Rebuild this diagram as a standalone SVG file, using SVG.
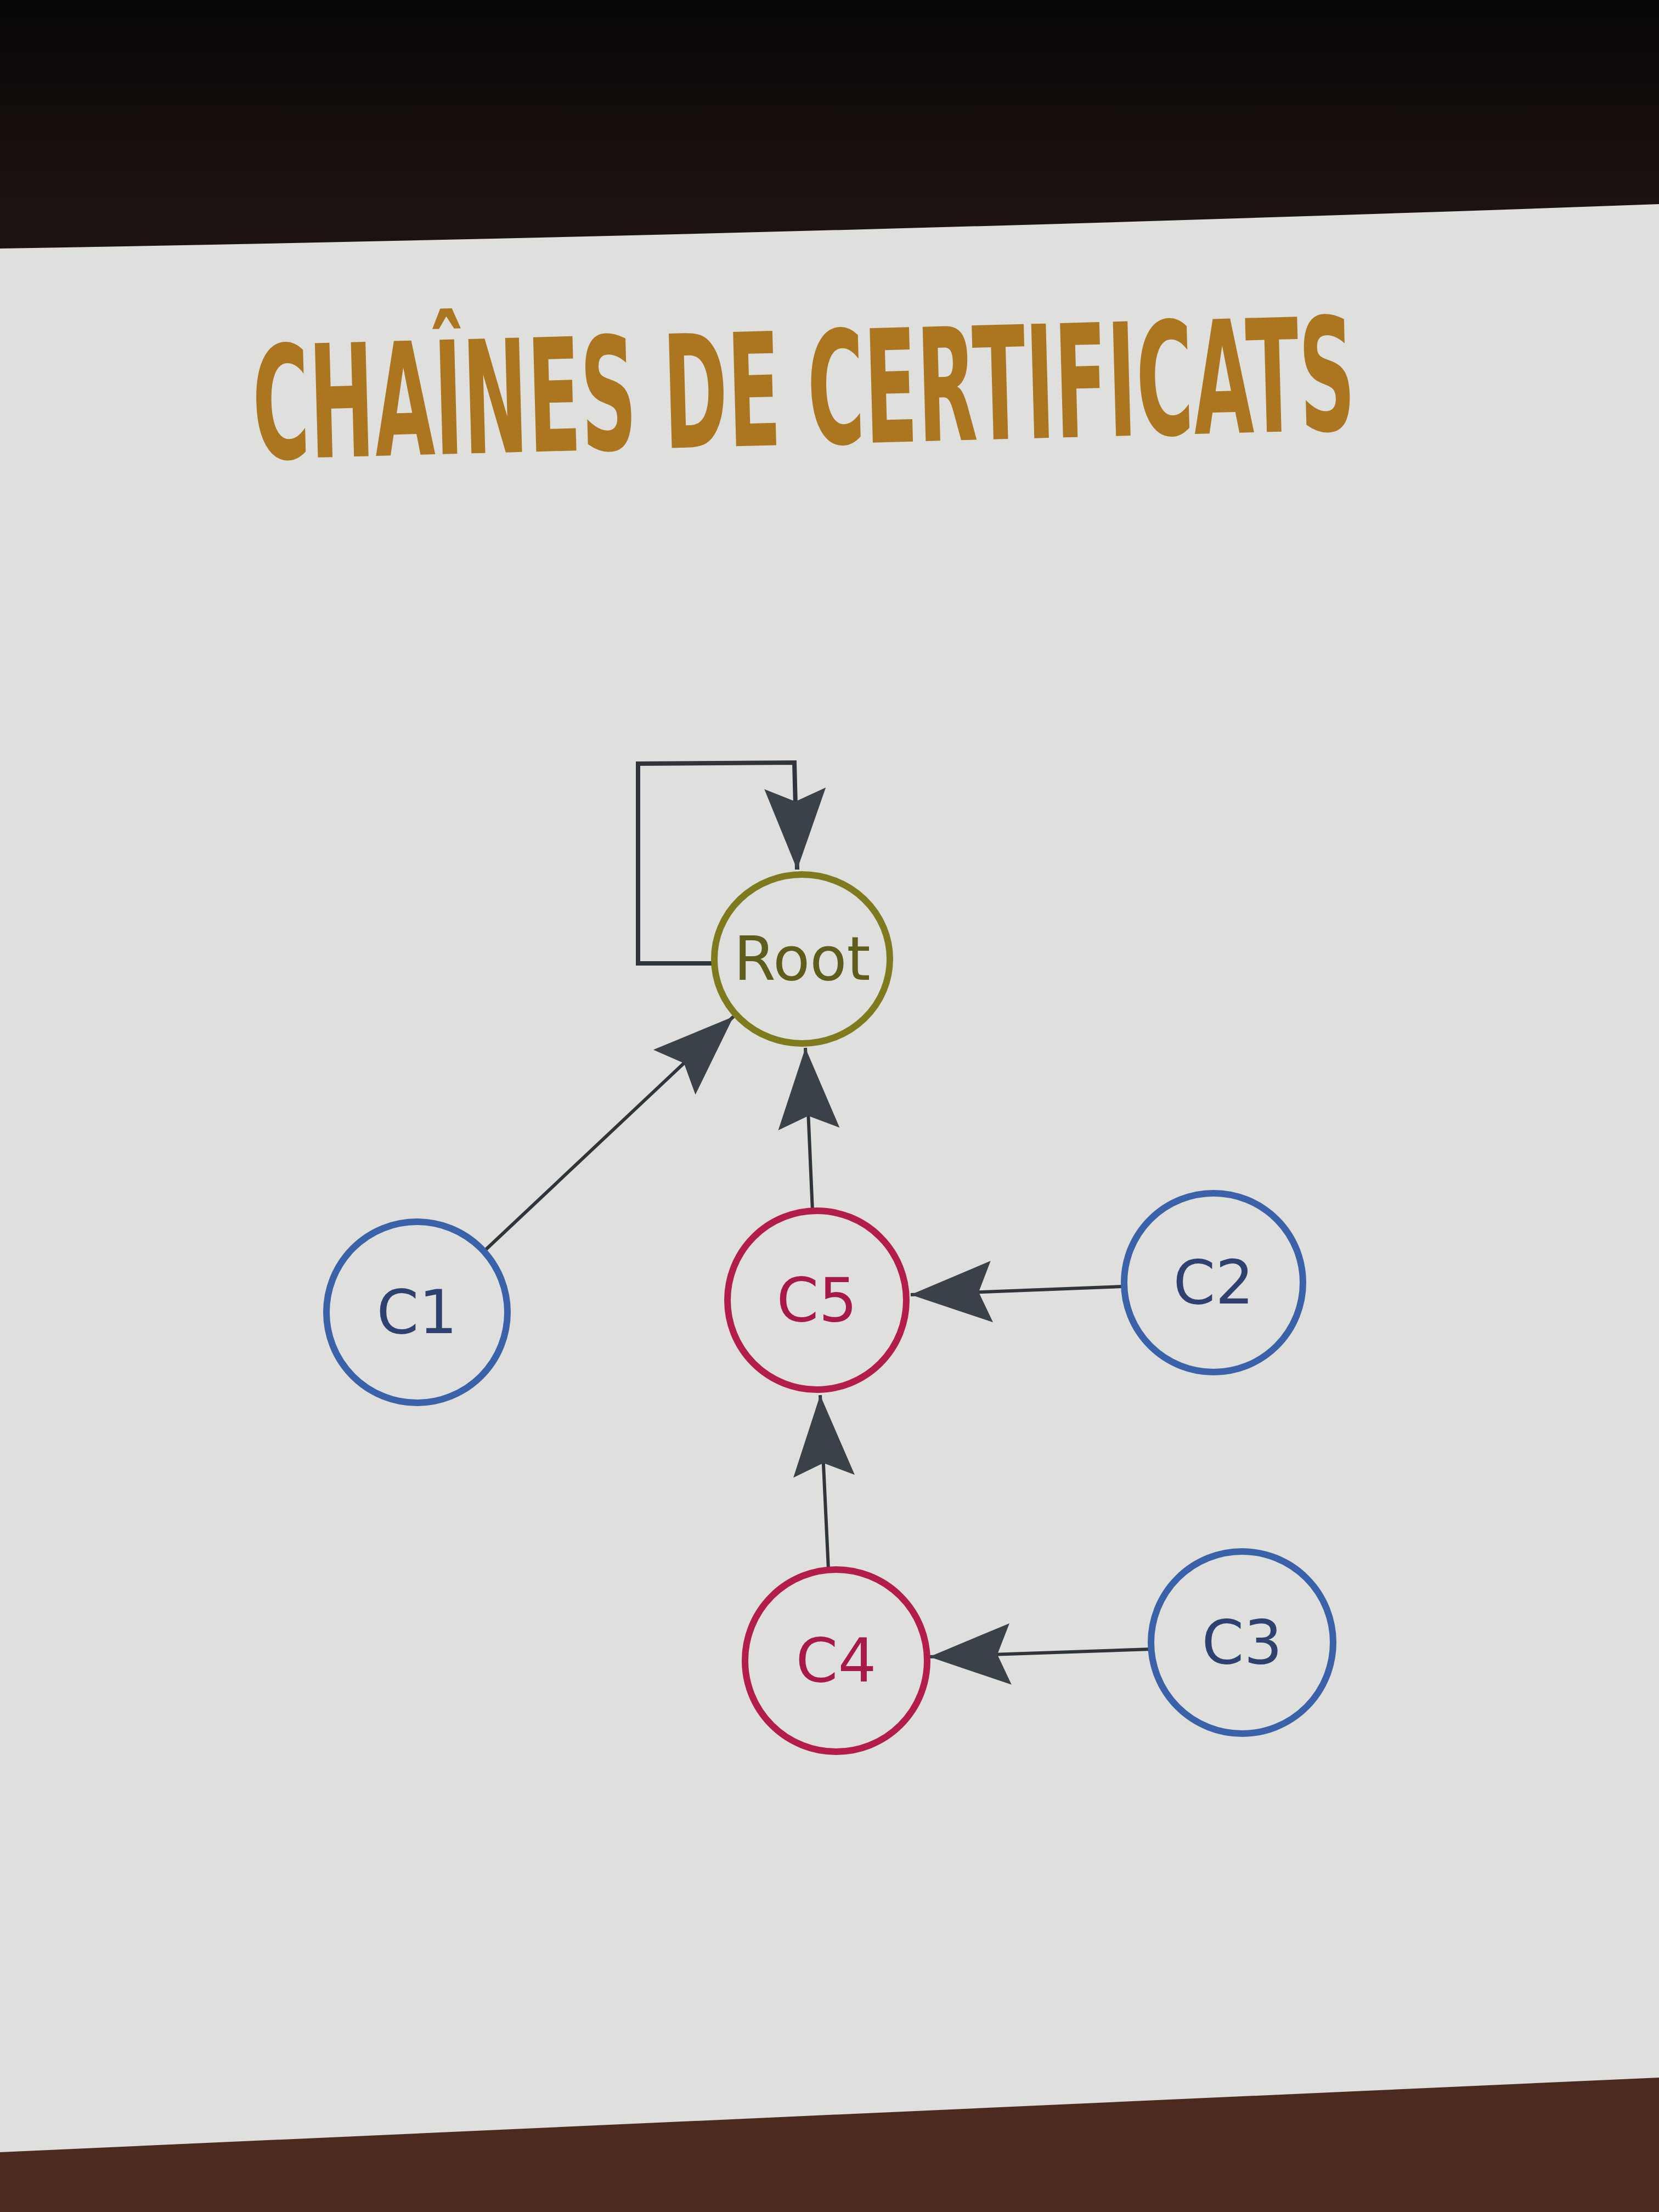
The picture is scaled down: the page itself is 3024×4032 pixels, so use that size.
<svg xmlns="http://www.w3.org/2000/svg" width="3024" height="4032" viewBox="0 0 3024 4032">
  <defs>
    <linearGradient id="bg" x1="0" y1="0" x2="0" y2="1">
      <stop offset="0" stop-color="#080606"/>
      <stop offset="0.09" stop-color="#1c1210"/>
      <stop offset="0.5" stop-color="#36201a"/>
      <stop offset="1" stop-color="#4e2b21"/>
    </linearGradient>
    <marker id="arr" markerUnits="userSpaceOnUse" markerWidth="160" markerHeight="130" viewBox="-155 -65 160 130" refX="0" refY="0" orient="auto">
      <path d="M0,0 L-148,-56 L-124,0 L-148,56 Z" fill="#3b4149"/>
    </marker>
    <style>
      .title { font-family: "Liberation Sans Narrow", "DejaVu Sans Condensed", "Liberation Sans", sans-serif; font-weight: bold; fill: #ab761f; }
      .node { fill: none; stroke-width: 12; }
      .blue { stroke: #3b62a9; }
      .red { stroke: #b21d4c; }
      .olive { stroke: #7e7a1d; }
      .lbl { font-family: "DejaVu Sans", sans-serif; font-size: 110px; text-anchor: middle; }
      .tblue { fill: #2e4170; }
      .tred { fill: #a6194a; }
      .tolive { fill: #5f5c1c; }
      .edge { fill: none; stroke: #30353c; stroke-width: 6; marker-end: url(#arr); }
      .loop { stroke-width: 8; }
    </style>
  </defs>
  <rect x="0" y="0" width="3024" height="4032" fill="url(#bg)"/>
  <path d="M0,453 Q1512,427 3024,372 L3024,3787 L0,3923 Z" fill="#dfdfdd"/>
  <text class="title" x="463" y="837" font-size="286" textLength="2010" lengthAdjust="spacingAndGlyphs" transform="rotate(-1.54 463 837)">CHAÎNES DE CERTIFICATS</text>
  <g id="connectors">
    <path class="edge loop" d="M1299,1756 L1163,1756 L1163,1392 L1448,1390 L1453,1585"/>
    <path class="edge" d="M882,2281 L1337,1853"/>
    <path class="edge" d="M1481,2207 L1468,1910"/>
    <path class="edge" d="M2046,2345 L1660,2360"/>
    <path class="edge" d="M1510,2860 L1495,2543"/>
    <path class="edge" d="M2098,3006 L1694,3020"/>
  </g>
  <g id="root">
    <ellipse class="node olive" cx="1462" cy="1748" rx="160" ry="154"/>
    <text class="lbl tolive" x="1462" y="1786">Root</text>
  </g>
  <g id="c1">
    <circle class="node blue" cx="760" cy="2392" r="165"/>
    <text class="lbl tblue" x="760" y="2430">C1</text>
  </g>
  <g id="c5">
    <circle class="node red" cx="1489" cy="2370" r="163"/>
    <text class="lbl tred" x="1489" y="2408">C5</text>
  </g>
  <g id="c2">
    <circle class="node blue" cx="2212" cy="2338" r="163"/>
    <text class="lbl tblue" x="2212" y="2376">C2</text>
  </g>
  <g id="c4">
    <circle class="node red" cx="1524" cy="3027" r="166"/>
    <text class="lbl tred" x="1524" y="3065">C4</text>
  </g>
  <g id="c3">
    <circle class="node blue" cx="2264" cy="2994" r="166"/>
    <text class="lbl tblue" x="2264" y="3032">C3</text>
  </g>
</svg>
